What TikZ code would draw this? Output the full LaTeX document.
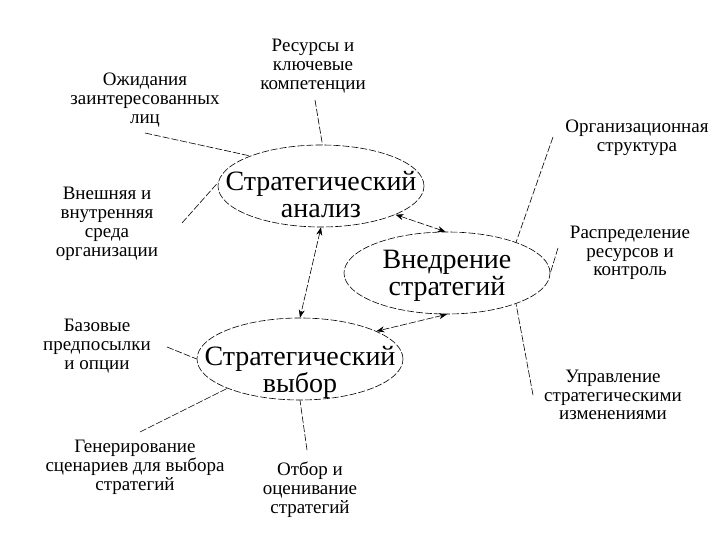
\documentclass[tikz,border=0pt]{standalone}
\usepackage{fontspec}
\setmainfont{Liberation Serif}
\usetikzlibrary{shapes.geometric,arrows.meta}
\begin{document}
\begin{tikzpicture}[x=1pt,y=-1pt,
  ell/.style={ellipse,draw,line width=0.6pt,dash pattern=on 7pt off 2pt,minimum width=206pt,minimum height=82pt,inner sep=0pt},
  bigtext/.style={align=center,font=\fontsize{28}{27}\selectfont,inner sep=0pt},
  lbl/.style={align=center,font=\fontsize{19}{18.8}\selectfont,inner sep=0pt},
  conn/.style={line width=0.6pt,dash pattern=on 7pt off 2pt},
  arr/.style={conn,{Stealth[length=8pt,width=6pt]}-{Stealth[length=8pt,width=6pt]}}]
\useasboundingbox[fill=white] (0,0) rectangle (720,540);
% ellipses
\node[ell] (A) at (321,186) {};
\node[bigtext] (At) at (321,195) {Стратегический\\анализ};
\node[ell] (B) at (447,273) {};
\node[bigtext] (Bt) at (447,276) {Внедрение\\стратегий};
\node[ell] (C) at (300,359) {};
\node[bigtext] (Ct) at (300,372) {Стратегический\\выбор};
% labels
\node[lbl] (l1) at (313,66) {Ресурсы и\\ключевые\\компетенции};
\node[lbl] (l2) at (145,100) {Ожидания\\заинтересованных\\лиц};
\node[lbl] (l3) at (107,224) {Внешняя и\\внутренняя\\среда\\организации};
\node[lbl] (l4) at (637,138) {Организационная\\структура};
\node[lbl] (l5) at (630,253) {Распределение\\ресурсов и\\контроль};
\node[lbl] (l6) at (613,395) {Управление\\стратегическими\\изменениями};
\node[lbl] (l7) at (97,346) {Базовые\\предпосылки\\и опции};
\node[lbl] (l8) at (135,467) {Генерирование\\сценариев для выбора\\стратегий};
\node[lbl] (l9) at (310,490) {Отбор и\\оценивание\\стратегий};
% connector free ends
\coordinate (c1) at (315,100);
\coordinate (c2) at (145,133);
\coordinate (c3) at (182,223);
\coordinate (c4) at (553,137);
\coordinate (c5) at (558,248);
\coordinate (c6) at (533,395);
\coordinate (c7) at (167,347);
\coordinate (c8) at (140,432);
\coordinate (c9) at (307,450);
% connectors
\draw[conn] (c1) -- (A.88);
\draw[conn] (c2) -- (A.157);
\draw[conn] (c3) -- (A.178);
\draw[conn] (c4) -- (B.24);
\draw[conn] (c5) -- (B.east);
\draw[conn] (c6) -- (B.-24);
\draw[conn] (c7) -- (C.west);
\draw[conn] (c8) -- (C.202);
\draw[conn] (c9) -- (C.south);
% arrows
\draw[arr] (A.-21) -- (B.92);
\draw[arr] (A.south) -- (C.north);
\draw[arr] (B.south) -- (C.20);
\end{tikzpicture}
\end{document}
